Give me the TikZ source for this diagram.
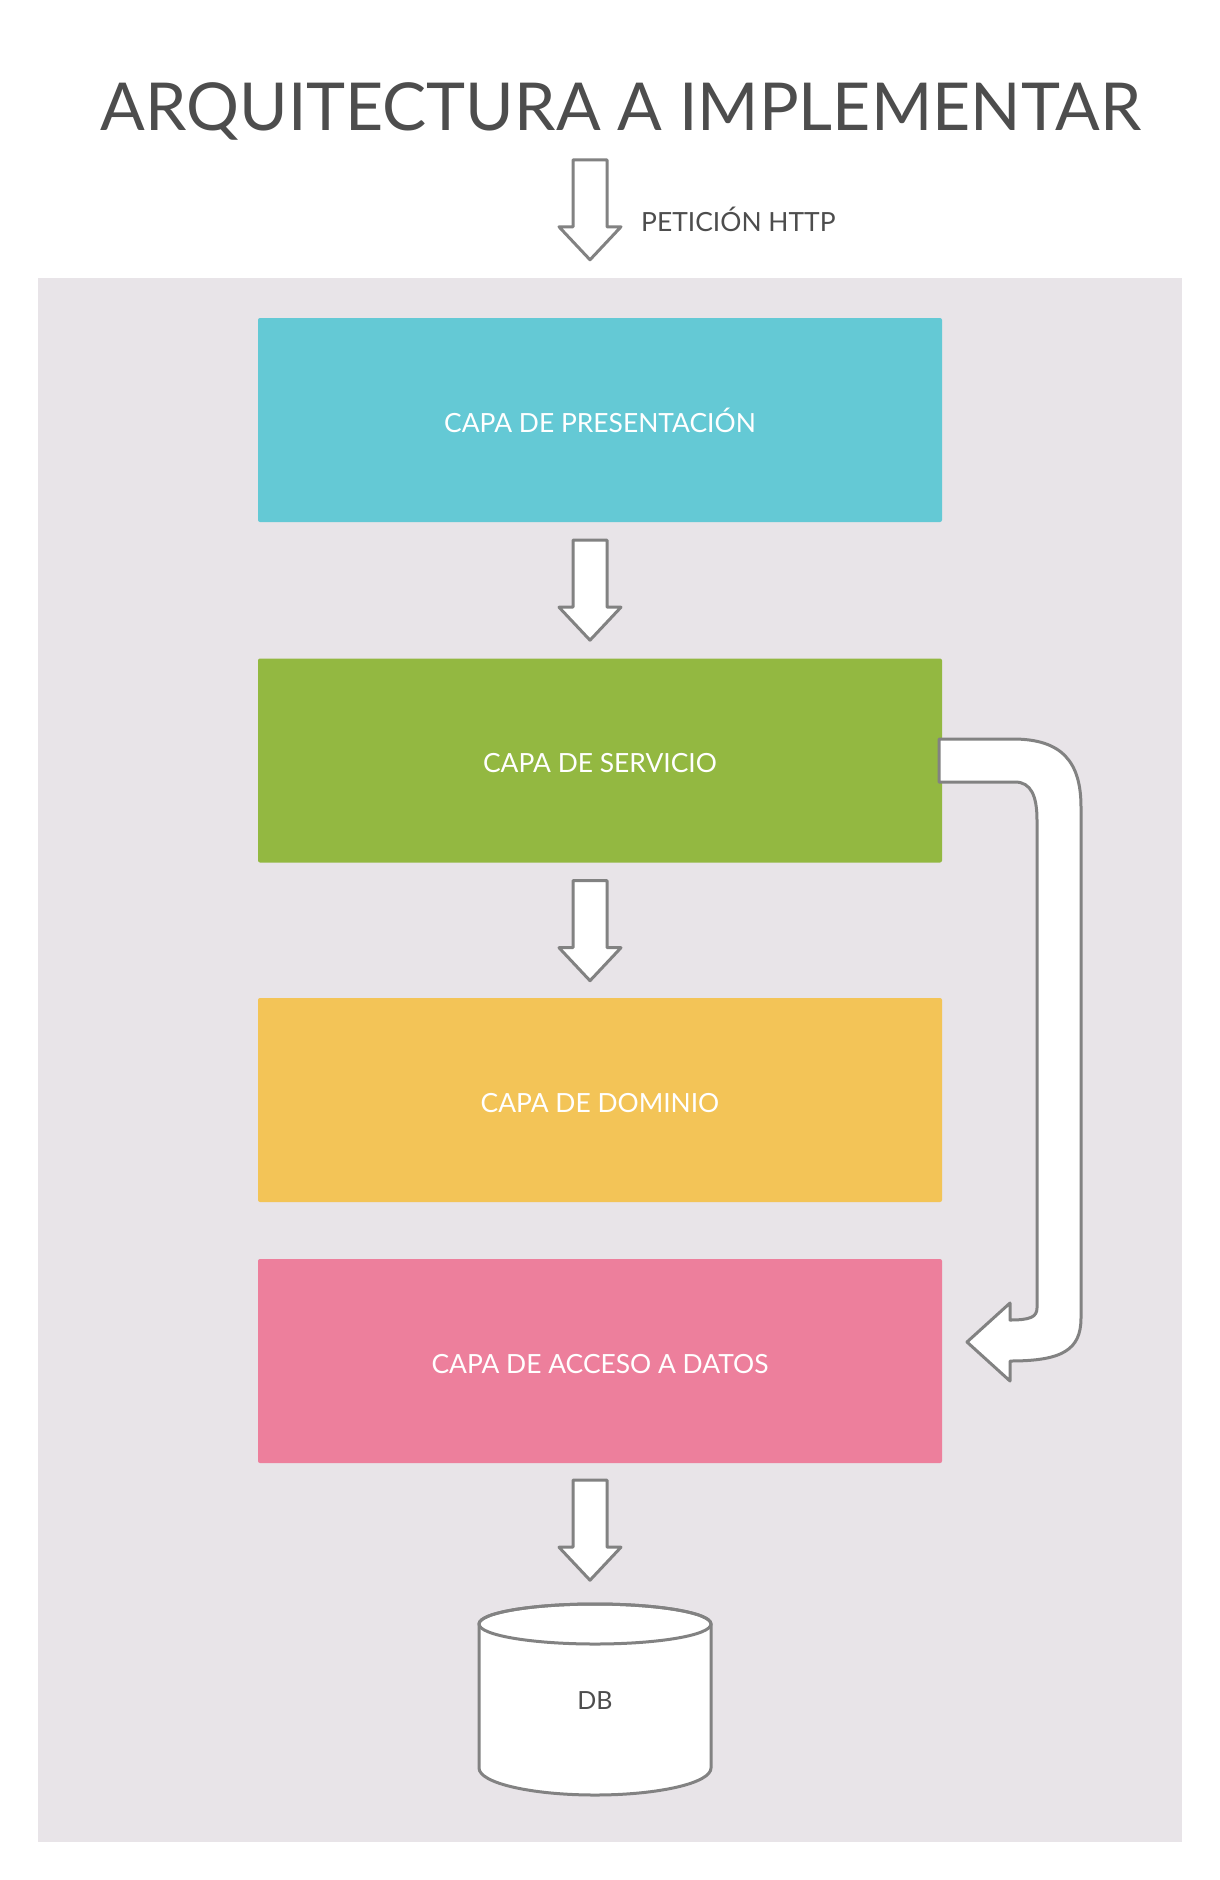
\documentclass[tikz,border=0pt]{standalone}
\usepackage{fontspec}
\setmainfont{Lato}
\usetikzlibrary{calc}
\definecolor{bgc}{HTML}{E8E4E8}
\definecolor{txtc}{HTML}{4D4D4D}
\definecolor{linec}{HTML}{828282}
\definecolor{cpres}{HTML}{64C9D5}
\definecolor{cserv}{HTML}{93B841}
\definecolor{cdom}{HTML}{F3C457}
\definecolor{cacc}{HTML}{ED7F9C}
\tikzset{
  layer/.style={minimum width=684pt, minimum height=204pt, inner sep=0pt,
    rounded corners=2pt, text=white, font=\fontsize{26.4}{31}\selectfont,
    text height=24pt, text depth=0pt},
  arrowline/.style={draw=linec, fill=white, line width=3pt, line join=round},
  downarr/.pic={\path[arrowline] (-17,0) -- (17,0) -- (17,67) -- (31,67) -- (0,100) -- (-31,67) -- (-17,67) -- cycle;}
}
\begin{document}
\begin{tikzpicture}[x=1pt,y=-1pt]
\useasboundingbox (0,0) rectangle (1220,1880);
\fill[white] (0,0) rectangle (1220,1880);
% title
\node[anchor=base, text=txtc, font=\fontsize{66.1}{80}\selectfont, inner sep=0pt] (title) at (621,130) {ARQUITECTURA A IMPLEMENTAR};
% panel
\node[fill=bgc, minimum width=1144pt, minimum height=1564pt, inner sep=0pt, anchor=north west] (panel) at (38,278) {};
% layers
\node[layer, fill=cpres] (pres) at (600,420) {CAPA DE PRESENTACIÓN};
\node[layer, fill=cserv] (serv) at (600,760.5) {CAPA DE SERVICIO};
\node[layer, fill=cdom] (dom) at (600,1100) {CAPA DE DOMINIO};
\node[layer, fill=cacc] (acc) at (600,1361) {CAPA DE ACCESO A DATOS};
% http request
\pic at ($(pres.north)+(-10,-158)$) {downarr};
\node[anchor=base west, text=txtc, font=\fontsize{26.4}{31}\selectfont, inner sep=0pt] (http) at (641,231) {PETICIÓN HTTP};
% arrows between layers
\pic at ($(pres.south)+(-10,18)$) {downarr};
\pic at ($(serv.south)+(-10,18)$) {downarr};
\pic at ($(acc.south)+(-10,17)$) {downarr};
% curved arrow
\path[arrowline] (939,739) -- (1013,739) .. controls (1062,739) and (1081,762) .. (1081,807)
  -- (1081,1318) .. controls (1081,1350) and (1062,1361) .. (1010,1361)
  -- (1010,1381) -- (967,1342) -- (1010,1303) -- (1010,1320)
  .. controls (1030,1320) and (1037,1317) .. (1037,1308)
  -- (1037,820) .. controls (1037,796) and (1031,782) .. (1015,782)
  -- (939,782) -- cycle;
% database
\path[arrowline] (479,1624) -- (479,1768) arc[start angle=180, end angle=360, x radius=116pt, y radius=27pt]
  -- (711,1624) arc[start angle=0, end angle=180, x radius=116pt, y radius=20pt] -- cycle;
\draw[draw=linec, line width=3pt] (595,1624) ellipse [x radius=116pt, y radius=20pt];
\node[text=txtc, font=\fontsize{25}{30}\selectfont, inner sep=0pt] (db) at (595,1701) {DB};
\end{tikzpicture}
\end{document}
